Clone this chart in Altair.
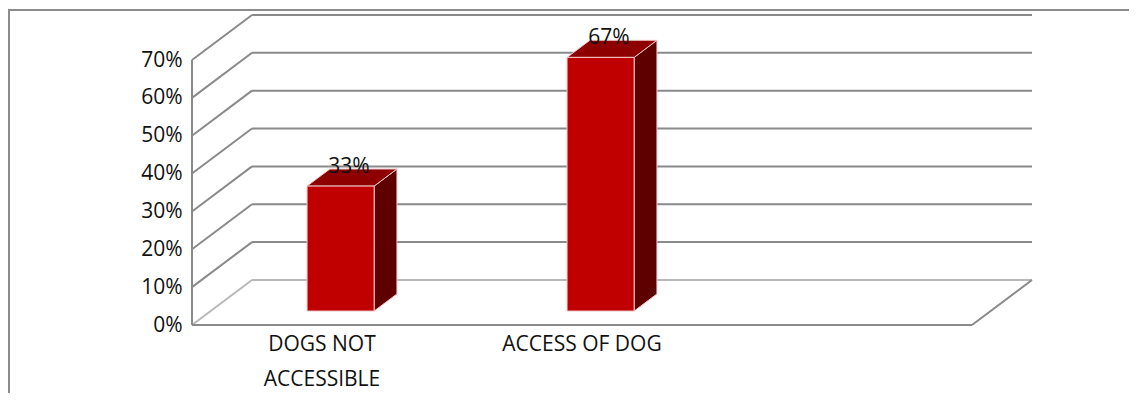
import altair as alt
import pandas as pd

# ---- data ----
categories = ["DOGS NOT\nACCESSIBLE", "ACCESS OF DOG"]
values = [0.33, 0.67]
value_labels = ["33%", "67%"]
tick_values = [0.0, 0.1, 0.2, 0.3, 0.4, 0.5, 0.6, 0.7]
n_slots = 3  # category slots on the floor (third one empty)

# ---- 3-D geometry (data units) ----
DX = 0.2308   # depth along x, in category units
DY = 0.119    # depth along y, in value units
F1, F2 = 0.31, 0.69   # bar front/back position inside the depth
HW = 0.129            # half bar width (category units)

centers = [i + 0.5 for i in range(len(categories))]

FONT = "Open Sans"
GRID = "#8a8a8a"
LIGHT = "#b8b8b8"

xs = alt.Scale(domain=[0, n_slots], nice=False, zero=False)
ys = alt.Scale(domain=[0, 0.7], nice=False, zero=False)
yaxis = alt.Axis(values=tick_values, format=".0%", title=None, domain=False,
                 ticks=False, grid=False, labelFontSize=21, labelFont=FONT,
                 labelColor="#111111", labelPadding=10)


def X(f):
    return alt.X(f, type="quantitative", scale=xs, axis=None)


def Y(f):
    return alt.Y(f, type="quantitative", scale=ys, axis=yaxis, stack=None)


# back wall gridlines
back = pd.DataFrame({"x": [DX] * len(tick_values),
                     "x2": [n_slots + DX] * len(tick_values),
                     "y": [t + DY for t in tick_values],
                     "dark": [t > 0 for t in tick_values]})
# left wall diagonals
diag = pd.DataFrame({"x": [0.0] * len(tick_values),
                     "x2": [DX] * len(tick_values),
                     "y": tick_values,
                     "y2": [t + DY for t in tick_values],
                     "dark": [t > 0 for t in tick_values]})
# floor front edge, floor right edge, front vertical axis
edges = pd.DataFrame({"x": [0.0, n_slots, 0.0],
                      "x2": [n_slots, n_slots + DX, 0.0],
                      "y": [0.0, 0.0, 0.0],
                      "y2": [0.0, DY, tick_values[-1]]})

front = pd.DataFrame({"x": [c - HW + F1 * DX for c in centers],
                      "x2": [c + HW + F1 * DX for c in centers],
                      "y": [F1 * DY] * len(values),
                      "y2": [v + F1 * DY for v in values]})
side_rows, top_rows = [], []
for i, (c, v) in enumerate(zip(centers, values)):
    for f in (F1, F2):
        side_rows.append({"bar": i, "x": c + HW + f * DX, "y": v + f * DY, "y2": f * DY})
        top_rows.append({"bar": i, "y": v + f * DY, "x": c - HW + f * DX, "x2": c + HW + f * DX})
side = pd.DataFrame(side_rows)
top = pd.DataFrame(top_rows)

lab = pd.DataFrame({"x": [c + 0.5 * DX for c in centers],
                    "y": [v + 0.5 * DY for v in values],
                    "t": value_labels})
cat = pd.DataFrame({"x": centers, "y": [0.0] * len(centers), "t": categories})

frame = alt.Chart(pd.DataFrame({"a": [0]})).mark_rect(
    fill=None, stroke="#8c8c8c", strokeWidth=2).encode(
    x=alt.value(-183), x2=alt.value(1000), y=alt.value(-50), y2=alt.value(400))

back_l = alt.Chart(back).mark_rule(strokeWidth=2).encode(
    x=X("x"), x2="x2", y=Y("y"),
    color=alt.condition("datum.dark", alt.value(GRID), alt.value(LIGHT)))
diag_l = alt.Chart(diag).mark_rule(strokeWidth=2).encode(
    x=X("x"), x2="x2", y=Y("y"), y2="y2",
    color=alt.condition("datum.dark", alt.value(GRID), alt.value(LIGHT)))
edge_l = alt.Chart(edges).mark_rule(strokeWidth=2, color=GRID).encode(
    x=X("x"), x2="x2", y=Y("y"), y2="y2")

side_l = alt.Chart(side).mark_area(color="#5f0000", stroke="#f0c8c8", strokeWidth=1).encode(
    x=X("x"), y=Y("y"), y2="y2", detail="bar:N")
top_l = alt.Chart(top).mark_area(orient="horizontal", color="#8e0000",
                                 stroke="#f0c8c8", strokeWidth=1).encode(
    y=Y("y"), x=X("x"), x2="x2", detail="bar:N")
front_l = alt.Chart(front).mark_rect(color="#c00000", stroke="#f0c8c8", strokeWidth=1).encode(
    x=X("x"), x2="x2", y=Y("y"), y2="y2")

lab_l = alt.Chart(lab).mark_text(font=FONT, fontSize=21, color="#111111",
                                 baseline="middle", dx=-3, dy=-11).encode(
    x=X("x"), y=Y("y"), text="t:N")
cat_l = alt.Chart(cat).mark_text(font=FONT, fontSize=21, color="#111111",
                                 baseline="top", lineBreak="\n", lineHeight=35,
                                 dy=9).encode(
    x=X("x"), y=Y("y"), text="t:N")

chart = alt.layer(frame, back_l, diag_l, edge_l, side_l, top_l, front_l, lab_l, cat_l).properties(
    width=780, height=265,
    autosize=alt.AutoSizeParams(type="none"),
    padding={"left": 184, "top": 52, "right": 157, "bottom": 68},
    background="white",
).configure_view(stroke=None)

chart.save("out.html", embed_options={"renderer": "svg", "actions": False})
